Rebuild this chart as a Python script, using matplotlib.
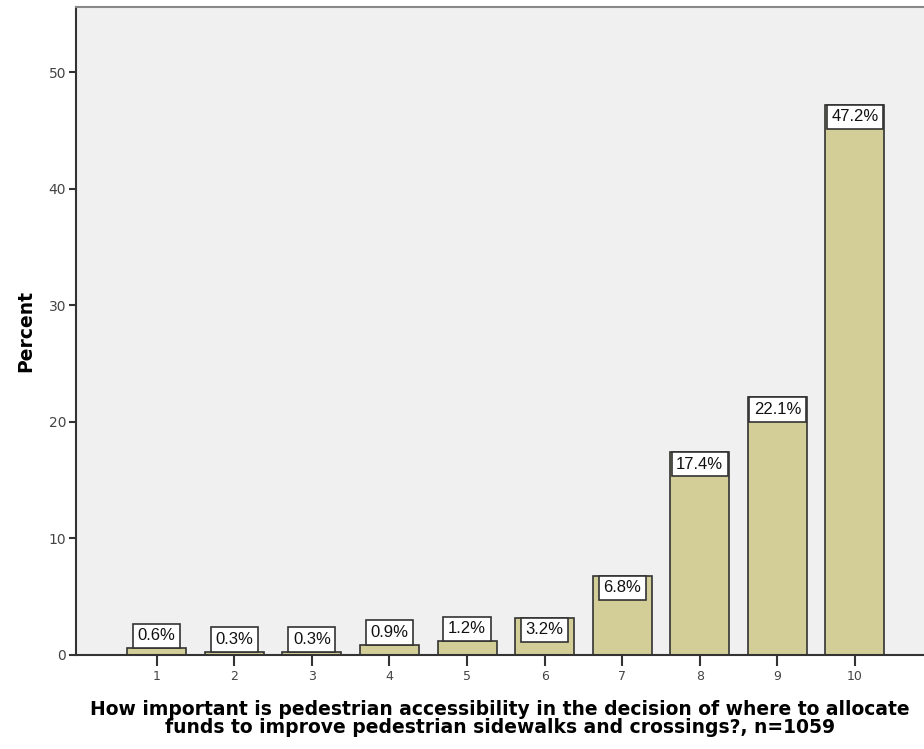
import matplotlib
matplotlib.use("Agg")
import matplotlib.pyplot as plt

# data
categories = ['1', '2', '3', '4', '5', '6', '7', '8', '9', '10']
percent = [0.6, 0.3, 0.3, 0.9, 1.2, 3.2, 6.8, 17.4, 22.1, 47.2]
labels = ['0.6%', '0.3%', '0.3%', '0.9%', '1.2%', '3.2%', '6.8%', '17.4%', '22.1%', '47.2%']
yticks = [0, 10, 20, 30, 40, 50]

plt.rcParams['font.family'] = ['DejaVu Sans']

fig = plt.figure(figsize=(9.24, 7.49), dpi=100)
ax = fig.add_axes([76/924, 94/749, 1 - 76/924, 648/749])
ax.set_facecolor('#F0F0F0')

x = list(range(len(categories)))
ax.bar(x, percent, width=0.76, color='#D3CE97', edgecolor='#333333', linewidth=1.2, zorder=2)

ax.set_xlim(-1.04, 9.89)
ax.set_ylim(0, 55.6)
ax.set_xticks(x)
ax.set_xticklabels(categories)
ax.set_yticks(yticks)
ax.tick_params(axis='x', length=8, width=1.5, color='#333333', labelsize=9, labelcolor='#444444', pad=3)
ax.tick_params(axis='y', length=5, width=1.5, color='#333333', labelsize=10, labelcolor='#444444', pad=2)

for s in ['left', 'bottom']:
    ax.spines[s].set_color('#333333')
    ax.spines[s].set_linewidth(1.5)
ax.spines['top'].set_color('#888888')
ax.spines['top'].set_linewidth(1.5)
ax.spines['right'].set_visible(False)

# value labels: inside the bar when it is tall enough, above otherwise
box = dict(boxstyle='square,pad=0.28', fc='white', ec='#333333', lw=1.2)
for xi, v, lab in zip(x, percent, labels):
    if v > 2.5:
        ax.annotate(lab, (xi, v), xytext=(0, -3.3), textcoords='offset points',
                    ha='center', va='top', fontsize=12, family='Liberation Sans',
                    color='#111111', zorder=3, bbox=box)
    else:
        ax.annotate(lab, (xi, v), xytext=(0, 3.3), textcoords='offset points',
                    ha='center', va='bottom', fontsize=12, family='Liberation Sans',
                    color='#111111', zorder=3, bbox=box)

ax.set_ylabel('Percent', fontsize=13.5, fontweight='bold', labelpad=10)
ax.set_xlabel('How important is pedestrian accessibility in the decision of where to allocate\n'
              'funds to improve pedestrian sidewalks and crossings?, n=1059',
              fontsize=13.5, fontweight='bold', linespacing=0.95, labelpad=12)

fig.savefig('out.png', dpi=100)
